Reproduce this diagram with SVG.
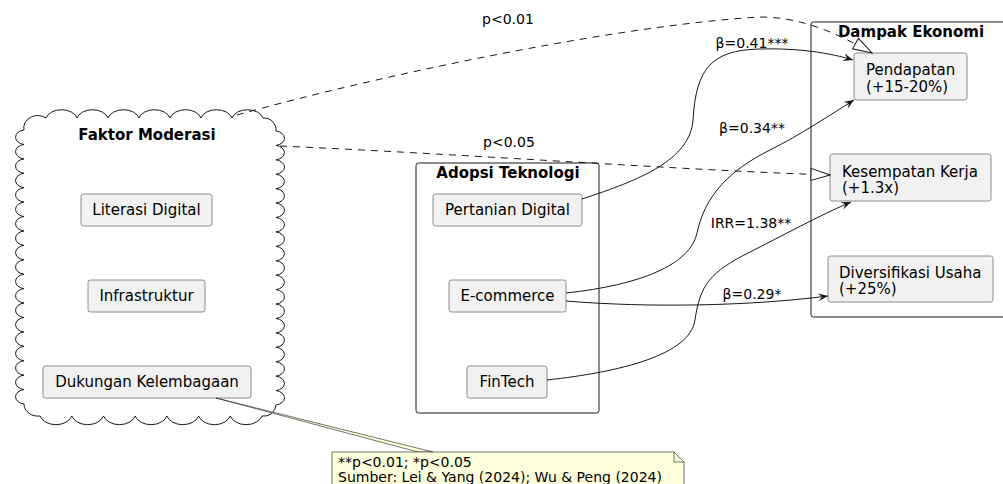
<svg xmlns="http://www.w3.org/2000/svg" width="1003" height="484" viewBox="0 0 1003 484">
  <style>
    text { font-family: "DejaVu Sans", "Liberation Sans", sans-serif; fill: #000; }
    .lbl { font-size: 15px; }
    .title { font-size: 15px; font-weight: bold; }
    .edge-lbl { font-size: 14px; text-anchor: middle; }
    .note-txt { font-size: 14px; }
    .box { fill: #F1F1F1; stroke: #8C8C8C; stroke-width: 1; }
    .frame { fill: none; stroke: #181818; stroke-width: 1; }
    .solid { fill: none; stroke: #181818; stroke-width: 1; marker-end: url(#arrow); }
    .dashed { fill: none; stroke: #181818; stroke-width: 1; stroke-dasharray: 7 6; marker-end: url(#hollow); }
  </style>
  <defs>
    <marker id="arrow" viewBox="0 0 10 8" refX="10" refY="4" markerWidth="10" markerHeight="8" markerUnits="userSpaceOnUse" orient="auto">
      <path d="M0,0 L10,4 L0,8 L4,4 Z" fill="#181818"/>
    </marker>
    <marker id="hollow" viewBox="-1 -1 21 14" refX="19" refY="6" markerWidth="21" markerHeight="14" markerUnits="userSpaceOnUse" orient="auto">
      <path d="M0,0 L19,6 L0,12 Z" fill="#FFFFFF" stroke="#181818" stroke-width="1"/>
    </marker>
  </defs>
  <rect width="1003" height="484" fill="#FFFFFF"/>

  <!-- Faktor Moderasi: cloud container -->
  <g id="faktor-moderasi">
    <path fill="#FFFFFF" stroke="#181818" stroke-width="1" d="M24,130 A14,12 0 0 1 46,118
      a16,11 0 0 1 31,0 a16,11 0 0 1 31,0 a16,11 0 0 1 31,0 a16,11 0 0 1 31,0
      a16,11 0 0 1 31,0 a16,11 0 0 1 31,0 a16,11 0 0 1 31,0
      A12,12 0 0 1 276,131
      a10,7.3 0 0 1 0,14.42 a10,7.3 0 0 1 0,14.42 a10,7.3 0 0 1 0,14.42 a10,7.3 0 0 1 0,14.42
      a10,7.3 0 0 1 0,14.42 a10,7.3 0 0 1 0,14.42 a10,7.3 0 0 1 0,14.42 a10,7.3 0 0 1 0,14.42
      a10,7.3 0 0 1 0,14.42 a10,7.3 0 0 1 0,14.42 a10,7.3 0 0 1 0,14.42 a10,7.3 0 0 1 0,14.42
      a10,7.3 0 0 1 0,14.42 a10,7.3 0 0 1 0,14.42 a10,7.3 0 0 1 0,14.42 a10,7.3 0 0 1 0,14.42
      a10,7.3 0 0 1 0,14.42 a10,7.3 0 0 1 0,14.42 a10,7.3 0 0 1 0,14.42
      A12,12 0 0 1 262,416
      a16.5,12 0 0 1 -31.7,0 a16.5,12 0 0 1 -31.7,0 a16.5,12 0 0 1 -31.7,0 a16.5,12 0 0 1 -31.7,0
      a16.5,12 0 0 1 -31.7,0 a16.5,12 0 0 1 -31.7,0 a16.5,12 0 0 1 -31.7,0
      A14,12 0 0 1 24,404
      a10,7.3 0 0 1 0,-14.42 a10,7.3 0 0 1 0,-14.42 a10,7.3 0 0 1 0,-14.42 a10,7.3 0 0 1 0,-14.42
      a10,7.3 0 0 1 0,-14.42 a10,7.3 0 0 1 0,-14.42 a10,7.3 0 0 1 0,-14.42 a10,7.3 0 0 1 0,-14.42
      a10,7.3 0 0 1 0,-14.42 a10,7.3 0 0 1 0,-14.42 a10,7.3 0 0 1 0,-14.42 a10,7.3 0 0 1 0,-14.42
      a10,7.3 0 0 1 0,-14.42 a10,7.3 0 0 1 0,-14.42 a10,7.3 0 0 1 0,-14.42 a10,7.3 0 0 1 0,-14.42
      a10,7.3 0 0 1 0,-14.42 a10,7.3 0 0 1 0,-14.42 a10,7.3 0 0 1 0,-14.42 Z"/>
    <text class="title" x="147" y="140" text-anchor="middle">Faktor Moderasi</text>
  </g>
  <g id="literasi-digital">
    <rect class="box" x="81" y="194" width="131" height="32" rx="2.5"/>
    <text class="lbl" x="146.5" y="215" text-anchor="middle">Literasi Digital</text>
  </g>
  <g id="infrastruktur">
    <rect class="box" x="88" y="280" width="117" height="32" rx="2.5"/>
    <text class="lbl" x="146.5" y="301" text-anchor="middle">Infrastruktur</text>
  </g>
  <g id="dukungan-kelembagaan">
    <rect class="box" x="43" y="366" width="208" height="32" rx="2.5"/>
    <text class="lbl" x="147" y="387" text-anchor="middle">Dukungan Kelembagaan</text>
  </g>

  <!-- Adopsi Teknologi package -->
  <g id="adopsi-teknologi">
    <rect class="frame" x="416" y="163" width="183" height="250" rx="2.5"/>
    <text class="title" x="508" y="178" text-anchor="middle">Adopsi Teknologi</text>
  </g>
  <g id="pertanian-digital">
    <rect class="box" x="433" y="194" width="149" height="32" rx="2.5"/>
    <text class="lbl" x="507.5" y="215" text-anchor="middle">Pertanian Digital</text>
  </g>
  <g id="e-commerce">
    <rect class="box" x="449" y="280" width="117" height="32" rx="2.5"/>
    <text class="lbl" x="507.5" y="301" text-anchor="middle">E-commerce</text>
  </g>
  <g id="fintech">
    <rect class="box" x="467" y="366" width="80" height="32" rx="2.5"/>
    <text class="lbl" x="507" y="387" text-anchor="middle">FinTech</text>
  </g>

  <!-- Dampak Ekonomi package -->
  <g id="dampak-ekonomi">
    <rect class="frame" x="811" y="22" width="200" height="295" rx="2.5"/>
    <text class="title" x="911" y="37" text-anchor="middle">Dampak Ekonomi</text>
  </g>
  <g id="pendapatan">
    <rect class="box" x="854" y="53" width="113" height="47" rx="2.5"/>
    <text class="lbl" x="866" y="75">Pendapatan</text>
    <text class="lbl" x="866" y="92">(+15-20%)</text>
  </g>
  <g id="kesempatan-kerja">
    <rect class="box" x="830" y="154" width="161" height="47" rx="2.5"/>
    <text class="lbl" x="842" y="177">Kesempatan Kerja</text>
    <text class="lbl" x="842" y="193">(+1.3x)</text>
  </g>
  <g id="diversifikasi-usaha">
    <rect class="box" x="828" y="256" width="165" height="46" rx="2.5"/>
    <text class="lbl" x="839" y="278">Diversifikasi Usaha</text>
    <text class="lbl" x="839" y="294">(+25%)</text>
  </g>

  <!-- Connectors -->
  <g id="connectors">
    <path class="dashed" d="M237,115 C380,75 620,25 760,17 C800,17 835,32 872,53"/>
    <text class="edge-lbl" x="508" y="24">p&lt;0.01</text>
    <path class="dashed" d="M280,146 C480,155 680,170 830,175"/>
    <text class="edge-lbl" x="509" y="147">p&lt;0.05</text>

    <path class="solid" d="M582,199 C640,180 690,160 693,120 C696,70 710,50 760,49 C800,48 830,53 853,60"/>
    <text class="edge-lbl" x="752" y="48">β=0.41***</text>
    <path class="solid" d="M566,293 C640,285 690,265 697,233 C705,195 730,170 770,150 C800,135 830,115 854,100"/>
    <text class="edge-lbl" x="752" y="133">β=0.34**</text>
    <path class="solid" d="M547,380 C620,372 690,355 695,320 C700,285 710,272 750,252 C780,237 820,215 851,202"/>
    <text class="edge-lbl" x="751" y="228">IRR=1.38**</text>
    <path class="solid" d="M566,301 C650,308 750,306 828,296"/>
    <text class="edge-lbl" x="752" y="299">β=0.29*</text>

    <!-- note attachment wedge -->
    <polygon points="216,398 418,452 433,452" fill="#FEFFDD" stroke="#181818" stroke-width="0.6"/>
  </g>

  <!-- Significance / source note -->
  <g id="note">
    <path d="M332,452 L674,452 L684,462 L684,490 L332,490 Z" fill="#FEFFDD" stroke="#181818" stroke-width="0.6"/>
    <path d="M674,452 L674,462 L684,462" fill="none" stroke="#181818" stroke-width="0.6"/>
    <text class="note-txt" x="338" y="467">**p&lt;0.01; *p&lt;0.05</text>
    <text class="note-txt" x="338" y="482">Sumber: Lei &amp; Yang (2024); Wu &amp; Peng (2024)</text>
  </g>
</svg>
